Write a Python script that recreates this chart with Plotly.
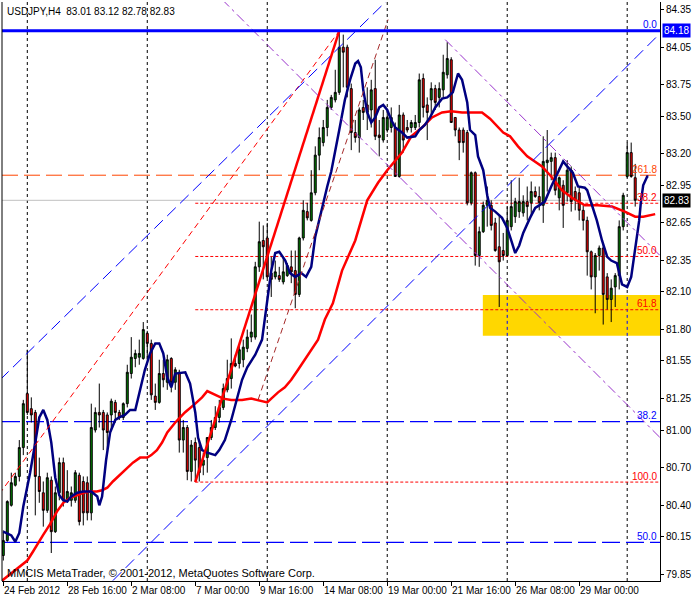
import plotly.graph_objects as go

# ---------------- data ----------------
bars = list(range(159))
opens = [80.00, 80.12, 80.40, 80.56, 80.63, 80.86, 81.29, 81.17, 81.14, 80.63,
         80.50, 80.36, 80.60, 80.19, 80.50, 80.74, 80.44, 80.44, 80.44, 80.64,
         80.59, 80.58, 80.34, 81.00, 81.14, 81.14, 81.12, 81.12, 81.22, 81.14,
         81.10, 81.21, 81.45, 81.57, 81.58, 81.57, 81.77, 81.69, 81.27, 81.22,
         81.45, 81.38, 81.57, 81.38, 81.46, 80.92, 81.02, 80.67, 80.90, 80.86,
         80.72, 80.78, 80.94, 81.02, 81.10, 81.18, 81.32, 81.41, 81.53, 81.53,
         81.56, 81.65, 81.74, 81.74, 82.30, 82.51, 82.53, 82.25, 82.22, 82.23,
         82.18, 82.23, 82.30, 82.27, 82.08, 82.53, 82.74, 82.67, 82.89, 83.19,
         83.29, 83.41, 83.57, 83.63, 83.69, 84.05, 84.05, 83.72, 83.37, 83.33,
         83.57, 83.59, 83.55, 83.72, 83.35, 83.31, 83.39, 83.41, 83.41, 83.02,
         83.51, 83.41, 83.41, 83.41, 83.45, 83.80, 83.59, 83.63, 83.72, 83.65,
         83.71, 83.83, 83.95, 83.49, 83.39, 83.39, 83.37, 82.81, 83.05, 82.39,
         82.58, 82.79, 82.79, 82.65, 82.46, 82.43, 82.39, 82.62, 82.70, 82.74,
         82.73, 82.82, 82.81, 82.90, 82.86, 82.79, 83.13, 83.14, 83.17, 82.85,
         82.95, 82.89, 83.07, 82.90, 82.89, 82.75, 82.67, 82.42, 82.22, 82.39,
         82.45, 82.22, 82.04, 82.14, 82.23, 82.62, 83.02, 83.21, 83.01]
highs = [80.20, 80.44, 80.66, 80.66, 80.92, 81.24, 81.64, 81.26, 81.16, 80.78,
         80.59, 80.66, 80.63, 80.55, 80.78, 80.78, 80.68, 80.55, 80.68, 80.66,
         80.63, 80.63, 81.21, 81.18, 81.37, 81.16, 81.14, 81.25, 81.24, 81.16,
         81.22, 81.52, 81.74, 81.64, 81.72, 81.86, 81.79, 81.72, 81.37, 81.56,
         81.56, 81.60, 81.58, 81.50, 81.48, 81.08, 81.04, 80.92, 80.94, 80.92,
         80.82, 80.94, 81.08, 81.19, 81.24, 81.37, 81.56, 81.73, 81.60, 81.68,
         81.72, 81.80, 81.92, 82.34, 82.66, 82.63, 82.65, 82.38, 82.35, 82.30,
         82.38, 82.33, 82.43, 82.43, 82.54, 82.83, 82.81, 83.07, 83.26, 83.41,
         83.47, 83.63, 83.67, 83.87, 84.18, 84.15, 84.07, 83.76, 83.47, 83.57,
         83.63, 83.73, 83.79, 83.95, 83.47, 83.55, 83.55, 83.57, 83.45, 83.59,
         83.53, 83.47, 83.47, 83.51, 83.84, 83.84, 83.65, 83.77, 83.75, 83.77,
         83.99, 84.09, 83.97, 83.49, 83.41, 83.41, 83.39, 83.06, 83.06, 82.62,
         82.82, 82.94, 82.83, 82.69, 82.71, 82.57, 82.78, 82.99, 82.85, 83.01,
         82.87, 82.94, 82.98, 82.94, 82.94, 83.34, 83.39, 83.21, 83.21, 83.02,
         82.99, 83.15, 83.10, 82.94, 82.93, 82.79, 82.70, 82.43, 82.41, 82.47,
         82.49, 82.25, 82.20, 82.25, 82.67, 82.89, 83.29, 83.29, 83.12]
lows = [79.96, 80.11, 80.39, 80.55, 80.59, 80.80, 81.12, 81.06, 80.32, 80.42,
        80.23, 80.34, 80.02, 80.18, 80.44, 80.39, 80.42, 80.39, 80.42, 80.24,
        80.24, 80.28, 80.28, 80.98, 81.02, 80.84, 80.84, 81.00, 81.06, 81.08,
        81.08, 81.18, 81.41, 81.50, 81.52, 81.56, 81.56, 81.24, 81.16, 81.21,
        81.34, 81.32, 81.30, 81.32, 80.82, 80.82, 80.60, 80.59, 80.585, 80.59,
        80.64, 80.66, 80.92, 81.00, 81.06, 81.16, 81.30, 81.33, 81.50, 81.49,
        81.50, 81.62, 81.70, 81.72, 82.26, 82.20, 82.21, 82.06, 82.20, 82.18,
        82.16, 82.22, 82.17, 81.97, 82.06, 82.51, 82.67, 82.66, 82.87, 83.07,
        83.26, 83.34, 83.55, 83.61, 83.67, 83.73, 83.65, 83.23, 83.29, 83.21,
        83.47, 83.39, 83.41, 83.31, 83.18, 83.29, 83.37, 83.37, 83.02, 83.01,
        83.21, 83.37, 83.37, 83.39, 83.41, 83.49, 83.31, 83.49, 83.55, 83.57,
        83.65, 83.80, 83.45, 83.34, 83.15, 83.21, 82.79, 82.79, 82.31, 82.30,
        82.57, 82.62, 82.59, 82.42, 81.98, 82.35, 82.38, 82.59, 82.65, 82.69,
        82.70, 82.67, 82.71, 82.85, 82.75, 82.65, 82.90, 82.99, 82.87, 82.75,
        82.61, 82.82, 82.74, 82.75, 82.67, 82.59, 82.23, 82.12, 81.93, 82.27,
        81.84, 81.96, 81.86, 81.98, 82.12, 82.59, 83.01, 83.01, 82.78]
closes = [80.12, 80.43, 80.58, 80.63, 80.86, 81.21, 81.14, 81.12, 80.63, 80.51,
          80.36, 80.62, 80.19, 80.50, 80.74, 80.44, 80.51, 80.50, 80.66, 80.27,
          80.34, 80.34, 81.02, 81.14, 81.12, 81.00, 80.98, 81.23, 81.14, 81.10,
          81.21, 81.46, 81.58, 81.61, 81.61, 81.80, 81.69, 81.28, 81.22, 81.45,
          81.40, 81.56, 81.38, 81.48, 80.92, 81.02, 80.67, 80.88, 80.76, 80.66,
          80.76, 80.94, 81.02, 81.10, 81.18, 81.33, 81.41, 81.53, 81.51, 81.64,
          81.66, 81.74, 81.78, 82.30, 82.50, 82.46, 82.22, 82.20, 82.26, 82.20,
          82.26, 82.31, 82.26, 82.08, 82.53, 82.75, 82.69, 82.89, 83.19, 83.33,
          83.41, 83.57, 83.65, 83.69, 84.05, 84.01, 83.73, 83.37, 83.33, 83.55,
          83.53, 83.53, 83.71, 83.34, 83.33, 83.49, 83.49, 83.49, 83.02, 83.51,
          83.31, 83.39, 83.45, 83.45, 83.79, 83.57, 83.53, 83.72, 83.61, 83.72,
          83.85, 83.96, 83.45, 83.39, 83.29, 83.29, 82.81, 83.05, 82.39, 82.58,
          82.79, 82.83, 82.63, 82.43, 82.34, 82.39, 82.67, 82.78, 82.82, 82.82,
          82.82, 82.78, 82.90, 82.86, 82.81, 83.14, 83.15, 83.17, 82.91, 83.01,
          82.79, 83.07, 82.82, 82.83, 82.75, 82.67, 82.42, 82.22, 82.39, 82.45,
          82.08, 82.04, 82.13, 82.23, 82.62, 82.87, 83.21, 83.02, 82.83]

# fast moving average (navy) sampled along the bars
fast_ma_bar = [0, 2, 3, 4, 5, 6.7, 8, 9, 10, 11, 12, 13, 14, 15, 16, 17, 18.5, 20, 22,
               23.5, 24, 24.7, 25.7, 26.7, 28, 29, 30.4, 31.7, 33, 34, 35.4, 36.7, 38,
               39, 40, 41, 42, 43, 45.5, 46.7, 48, 48.7, 49.7, 51, 53, 54, 55.4, 57,
               59.7, 61, 63, 64.7, 65.4, 66, 67, 68, 69, 70.5, 71.7, 73, 74.5, 75.7,
               77, 78, 79.7, 81, 82, 82.5, 84, 85.4, 86.7, 88, 88.7, 89.4, 90, 91, 92,
               93, 94, 95, 96, 97, 98, 99.7, 101, 103, 104, 105.4, 106.7, 108, 109.7,
               111, 112.4, 113.7, 114.7, 116, 116.7, 118, 118.7, 120, 121, 121.7, 123,
               124.7, 126, 127, 128, 129, 130, 131.7, 133, 134, 135.4, 137, 138.7, 140,
               141, 142.4, 143.7, 145.4, 146, 147, 148.4, 149.7, 151, 152, 153.4,
               154.7, 156, 157, 158, 159, 159.4, 160, 161, 161.3]
fast_ma_val = [80.19, 80.16, 80.11, 80.18, 80.39, 80.66, 80.90, 81.10, 81.16, 81.08,
               80.90, 80.62, 80.48, 80.44, 80.43, 80.47, 80.50, 80.51, 80.51, 80.47,
               80.40, 80.47, 80.76, 80.98, 81.08, 81.10, 81.12, 81.16, 81.16, 81.30,
               81.48, 81.61, 81.69, 81.69, 81.61, 81.42, 81.34, 81.45, 81.46, 81.37,
               81.14, 80.94, 80.84, 80.82, 80.80, 80.84, 80.92, 81.08, 81.40, 81.50,
               81.60, 81.72, 81.88, 82.06, 82.27, 82.41, 82.42, 82.35, 82.25, 82.22,
               82.25, 82.22, 82.30, 82.54, 82.78, 82.94, 83.06, 83.15, 83.39, 83.63,
               83.79, 83.92, 83.94, 83.89, 83.71, 83.53, 83.45, 83.49, 83.57, 83.59,
               83.55, 83.47, 83.41, 83.37, 83.33, 83.34, 83.39, 83.43, 83.49, 83.57,
               83.64, 83.65, 83.69, 83.84, 83.79, 83.61, 83.39, 83.35, 83.18, 83.07,
               82.87, 82.77, 82.74, 82.69, 82.61, 82.51, 82.41, 82.47, 82.57, 82.69,
               82.77, 82.79, 82.82, 82.94, 83.06, 83.14, 83.10, 83.05, 82.94, 82.93,
               82.91, 82.81, 82.67, 82.51, 82.38, 82.35, 82.33, 82.16, 82.14, 82.22,
               82.43, 82.67, 82.81, 82.95, 83.02, 83.02]

# slow moving average (red)
slow_ma_bar = [-0.3, 2.4, 4.2, 6, 7.4, 8.7, 9.9, 11.7, 13.4, 15, 16.7, 18.4, 20, 21.7,
               23.4, 24.7, 26, 27.4, 29, 31, 32.4, 34.2, 36, 37, 38.4, 39.7, 41, 43,
               45.4, 48, 49.7, 51, 53, 55, 57, 59.7, 62, 64.7, 66, 67, 68.7, 70.4, 72,
               73.7, 75.4, 77, 78.7, 80.4, 82.4, 84.7, 88, 91, 93.7, 96, 99.7, 102,
               104.7, 107.2, 109.7, 112, 114.7, 117, 119.7, 121.7, 125, 126.7, 128.7,
               131, 134.7, 137, 139.7, 142.2, 145.4, 148.7, 152.2, 155.4, 158, 160, 163]
slow_ma_val = [79.80, 79.87, 79.92, 79.96, 80.03, 80.10, 80.16, 80.25, 80.35, 80.42,
               80.46, 80.48, 80.50, 80.51, 80.51, 80.52, 80.54, 80.59, 80.64, 80.70,
               80.74, 80.78, 80.78, 80.80, 80.84, 80.90, 80.98, 81.06, 81.14, 81.21,
               81.26, 81.31, 81.28, 81.25, 81.24, 81.24, 81.25, 81.23, 81.22, 81.25,
               81.30, 81.34, 81.40, 81.48, 81.56, 81.64, 81.72, 81.88, 82.01, 82.27,
               82.51, 82.83, 82.97, 83.07, 83.21, 83.34, 83.41, 83.49, 83.53, 83.54,
               83.53, 83.53, 83.53, 83.48, 83.37, 83.34, 83.26, 83.18, 83.10, 83.02,
               82.91, 82.85, 82.79, 82.79, 82.78, 82.74, 82.70, 82.70, 82.72]

date_tick_bars = [0, 16, 32, 48, 64, 80, 96, 112, 128, 144]
date_tick_labels = ["24 Feb 2012", "28 Feb 16:00", "2 Mar 08:00", "7 Mar 00:00",
                    "9 Mar 16:00", "14 Mar 08:00", "19 Mar 00:00", "21 Mar 16:00",
                    "26 Mar 08:00", "29 Mar 00:00"]
price_ticks = [84.35, 84.05, 83.75, 83.50, 83.20, 82.95, 82.65, 82.35, 82.10,
               81.80, 81.55, 81.25, 81.00, 80.70, 80.40, 80.15, 79.85]
week_start_bars = [6, 36, 66, 96, 126, 156]

# Fibonacci objects
fib_red_high, fib_red_low, fib_red_start_bar = 84.18, 80.585, 48
fib_red_levels = [38.2, 50.0, 61.8, 100.0]
fib_blue_high, fib_blue_low = 84.18, 76.03
fib_blue_levels = [38.2, 50.0]
ext_level_name, ext_level_price = "261.8", 83.03
top_level_name, top_level_price = "0.0", 84.18
bid_price = 82.83

# support zone (bar from, bar to, low, high)
zone = (119.9, 164.2, 81.75, 82.075)

# trend lines: (bar0, price0, bar1, price1)
trend_lines = {
    "red_main": (48, 80.585, 84, 84.18),
    "red_thin": (-1, 80.49, 84, 84.18),
    "brown": (63.7, 81.24, 96.2, 84.27),
    "blue_upper": (-0.8, 81.40, 96.2, 84.43),
    "blue_lower": (27.4, 79.80, 164.2, 84.16),
    "violet_1": (54.7, 84.43, 164.2, 80.94),
    "violet_2": (110.5, 84.11, 164.2, 82.39),
}

header = "USDJPY,H4\u00a0\u00a083.01 83.12 82.78 82.83"
footer = "MMCIS MetaTrader, \u00a9 2001-2012, MetaQuotes Software Corp."

# ---------------- styles ----------------
FONT = "Liberation Sans, Arial, sans-serif"
line_styles = {
    "red_main": dict(color="#FF0000", width=2.5, dash="solid"),
    "red_thin": dict(color="#FF0000", width=1, dash="6px,4px"),
    "brown": dict(color="#A52A2A", width=1, dash="6px,4px"),
    "blue_upper": dict(color="#0000FF", width=1, dash="12px,6px"),
    "blue_lower": dict(color="#0000FF", width=1, dash="12px,6px"),
    "violet_1": dict(color="#9932CC", width=1, dash="10px,4px,3px,4px"),
    "violet_2": dict(color="#9932CC", width=1, dash="10px,4px,3px,4px"),
}
X_MIN, X_MAX = -0.325, 164.2
Y_MIN, Y_MAX = 79.797, 84.410

fig = go.Figure()

fig.add_trace(go.Candlestick(
    x=bars, open=opens, high=highs, low=lows, close=closes,
    increasing=dict(line=dict(color="black", width=1), fillcolor="#008000"),
    decreasing=dict(line=dict(color="black", width=1), fillcolor="#FF0000"),
    whiskerwidth=0, hoverinfo="skip", showlegend=False))

fig.add_trace(go.Scatter(x=slow_ma_bar, y=slow_ma_val, mode="lines",
                         line=dict(color="#FF0000", width=2.5), hoverinfo="skip",
                         showlegend=False))
fig.add_trace(go.Scatter(x=fast_ma_bar, y=fast_ma_val, mode="lines",
                         line=dict(color="#000080", width=2.5), hoverinfo="skip",
                         showlegend=False))

for name, (b0, p0, b1, p1) in trend_lines.items():
    fig.add_trace(go.Scatter(x=[b0, b1], y=[p0, p1], mode="lines",
                             line=line_styles[name], hoverinfo="skip",
                             showlegend=False))

shapes = []
shapes.append(dict(type="rect", xref="x", yref="y", x0=zone[0], x1=zone[1],
                   y0=zone[2], y1=zone[3], fillcolor="#FFD700",
                   line=dict(width=0), layer="below"))
for b in week_start_bars:
    shapes.append(dict(type="line", xref="x", yref="paper", x0=b, x1=b, y0=0, y1=1,
                       line=dict(color="black", width=1, dash="3px,3px"),
                       layer="below"))
    if zone[0] <= b <= zone[1]:
        shapes.append(dict(type="line", xref="x", yref="y", x0=b, x1=b,
                           y0=zone[2], y1=zone[3],
                           line=dict(color="#0000FF", width=1, dash="3px,3px"),
                           layer="below"))
shapes.append(dict(type="line", xref="paper", yref="y", x0=0, x1=1,
                   y0=bid_price, y1=bid_price,
                   line=dict(color="#C0C0C0", width=1), layer="below"))
shapes.append(dict(type="line", xref="paper", yref="y", x0=0, x1=1,
                   y0=ext_level_price, y1=ext_level_price,
                   line=dict(color="#FF4500", width=1, dash="16px,6px"),
                   layer="below"))
for lv in fib_red_levels:
    p = fib_red_high - (fib_red_high - fib_red_low) * lv / 100
    shapes.append(dict(type="line", xref="x", yref="y", x0=fib_red_start_bar,
                       x1=X_MAX, y0=p, y1=p,
                       line=dict(color="#FF0000", width=1, dash="3px,2px"),
                       layer="below"))
for lv in fib_blue_levels:
    p = fib_blue_high - (fib_blue_high - fib_blue_low) * lv / 100
    shapes.append(dict(type="line", xref="paper", yref="y", x0=0, x1=1,
                       y0=p, y1=p,
                       line=dict(color="#0000FF", width=1.2, dash="18px,6px"),
                       layer="below"))
shapes.append(dict(type="line", xref="paper", yref="y", x0=0, x1=1,
                   y0=top_level_price, y1=top_level_price,
                   line=dict(color="#0000FF", width=3), layer="above"))
shapes.append(dict(type="line", xref="paper", yref="paper", x0=0, x1=0, y0=0, y1=1,
                   line=dict(color="black", width=1), layer="above"))

ann = []
def level_label(text, price, color):
    ann.append(dict(x=1, xref="paper", y=price, yref="y", text=text,
                    xanchor="right", yanchor="middle", xshift=-1, yshift=6,
                    showarrow=False, font=dict(family=FONT, size=10, color=color)))

level_label(top_level_name, top_level_price, "#0000FF")
level_label(ext_level_name, ext_level_price, "#FF4500")
for lv in fib_red_levels:
    p = fib_red_high - (fib_red_high - fib_red_low) * lv / 100
    level_label(f"{lv:.1f}", p, "#FF0000")
for lv in fib_blue_levels:
    p = fib_blue_high - (fib_blue_high - fib_blue_low) * lv / 100
    level_label(f"{lv:.1f}", p, "#0000FF")

for price, bg in [(top_level_price, "#0000FF"), (bid_price, "#000000")]:
    ann.append(dict(x=1, xref="paper", y=price, yref="y", text=f"{price:.2f}",
                    xanchor="left", yanchor="middle", xshift=2, showarrow=False,
                    bgcolor=bg, borderpad=1,
                    font=dict(family=FONT, size=10, color="white")))

for b, t in zip(date_tick_bars, date_tick_labels):
    ann.append(dict(x=b, xref="x", y=0, yref="paper", text=t, xanchor="left",
                    yanchor="top", xshift=-1, yshift=-2, showarrow=False,
                    font=dict(family=FONT, size=10, color="black")))

ann.append(dict(x=0, xref="paper", y=1, yref="paper", text=header, xanchor="left",
                yanchor="top", xshift=3, yshift=-2, showarrow=False,
                font=dict(family=FONT, size=10, color="black")))
ann.append(dict(x=0, xref="paper", y=0, yref="paper", text=footer, xanchor="left",
                yanchor="bottom", xshift=3, yshift=0, showarrow=False,
                font=dict(family=FONT, size=11, color="black")))

fig.update_layout(
    width=700, height=600,
    margin=dict(l=2, r=40, t=2, b=19),
    paper_bgcolor="white", plot_bgcolor="white",
    showlegend=False, shapes=shapes, annotations=ann,
    font=dict(family=FONT, size=10, color="black"),
    xaxis=dict(range=[X_MIN, X_MAX], showgrid=False, zeroline=False,
               rangeslider=dict(visible=False), tickmode="array",
               tickvals=date_tick_bars, showticklabels=False, ticks="outside",
               ticklen=4, tickcolor="black", showline=True, linecolor="black",
               linewidth=1),
    yaxis=dict(range=[Y_MIN, Y_MAX], side="right", showgrid=False, zeroline=False,
               tickmode="array", tickvals=price_ticks,
               ticktext=[f"{v:.2f}" for v in price_ticks], ticks="outside",
               ticklen=3, tickcolor="black", showline=True, linecolor="black",
               linewidth=1, tickfont=dict(family=FONT, size=10, color="black")),
    hovermode=False,
)

fig.write_html("out.html", config={"displayModeBar": False},
               post_script="document.body.style.margin='0px';"
                           "document.body.style.overflow='hidden';")
